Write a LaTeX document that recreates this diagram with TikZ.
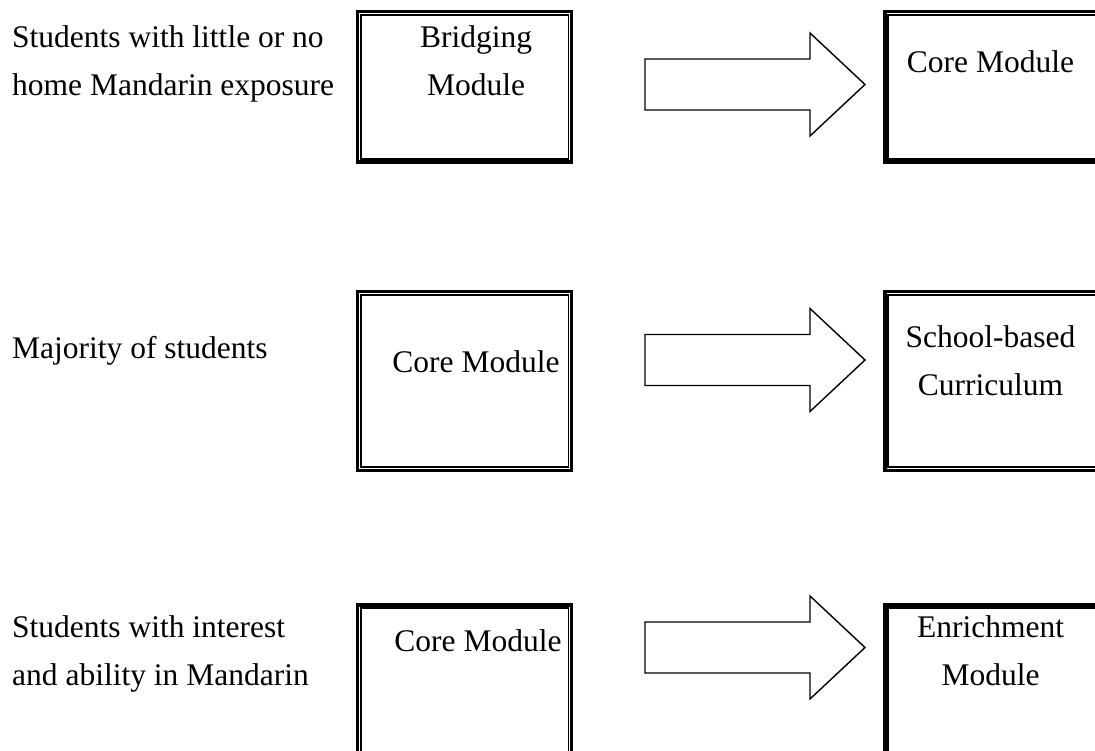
\documentclass[tikz,border=0pt]{standalone}
\usepackage{fontspec}
\setmainfont{Liberation Serif}
\usetikzlibrary{positioning}
\tikzset{
  modbox/.style={draw, line width=3.5pt, minimum width=214pt, inner sep=0pt},
  innerline/.style={line width=1.5pt},
  modtext/.style={align=center, inner sep=0pt, font=\fontsize{31.5}{48}\selectfont},
  grouptext/.style={align=left, anchor=west, inner sep=0pt, font=\fontsize{31.5}{48}\selectfont},
  blockarrow/.pic={\draw[line width=1.4pt] (0,-25.5) -- (165,-25.5) -- (165,-51.5) -- (220,0) -- (165,51.5) -- (165,25.5) -- (0,25.5) -- cycle;}
}

\begin{document}
\begin{tikzpicture}[x=1pt, y=-1pt, on grid, node distance=527.25pt]
  \useasboundingbox (0,0) rectangle (1095,751);
  \clip (0,0) rectangle (1095,751);

  % little or no home exposure
  \node[modbox, minimum height=150.5pt] (bridge) at (464.5,87) {};
  \node[modbox, minimum height=150.5pt] (coreA) [right=of bridge] {};
  \node[grouptext] (groupA) at (12,64) {Students with little or no\\home Mandarin exposure};
  \node[modtext] (bridgetext) at (476,61) {Bridging\\Module};
  \node[modtext] (coreAtext) at (990.5,62) {Core Module};
  \pic at (645,84.5) {blockarrow};

  % majority
  \node[modbox, minimum height=178.5pt] (coreB) at (464.5,381) {};
  \node[modbox, minimum height=178.5pt] (school) [right=of coreB] {};
  \node[grouptext] (groupB) at (12,351) {Majority of students};
  \node[modtext] (coreBtext) at (476,362) {Core Module};
  \node[modtext] (schooltext) at (990.5,361) {School-based\\Curriculum};
  \pic at (645,360) {blockarrow};

  % interest and ability
  \node[modbox, minimum height=178.5pt] (coreC) at (464.5,694) {};
  \node[modbox, minimum height=178.5pt] (enrich) [right=of coreC] {};
  \node[grouptext] (groupC) at (12,654) {Students with interest\\and ability in Mandarin};
  \node[modtext] (coreCtext) at (478,641) {Core Module};
  \node[modtext] (enrichtext) at (990.5,650.5) {Enrichment\\Module};
  \pic at (645,647.5) {blockarrow};

  % thin inner border
  \foreach \b in {bridge, coreA, coreB, school, coreC, enrich}
    \draw[innerline] ([shift={(5,5)}]\b.north west) rectangle ([shift={(-5,-5)}]\b.south east);
\end{tikzpicture}
\end{document}
